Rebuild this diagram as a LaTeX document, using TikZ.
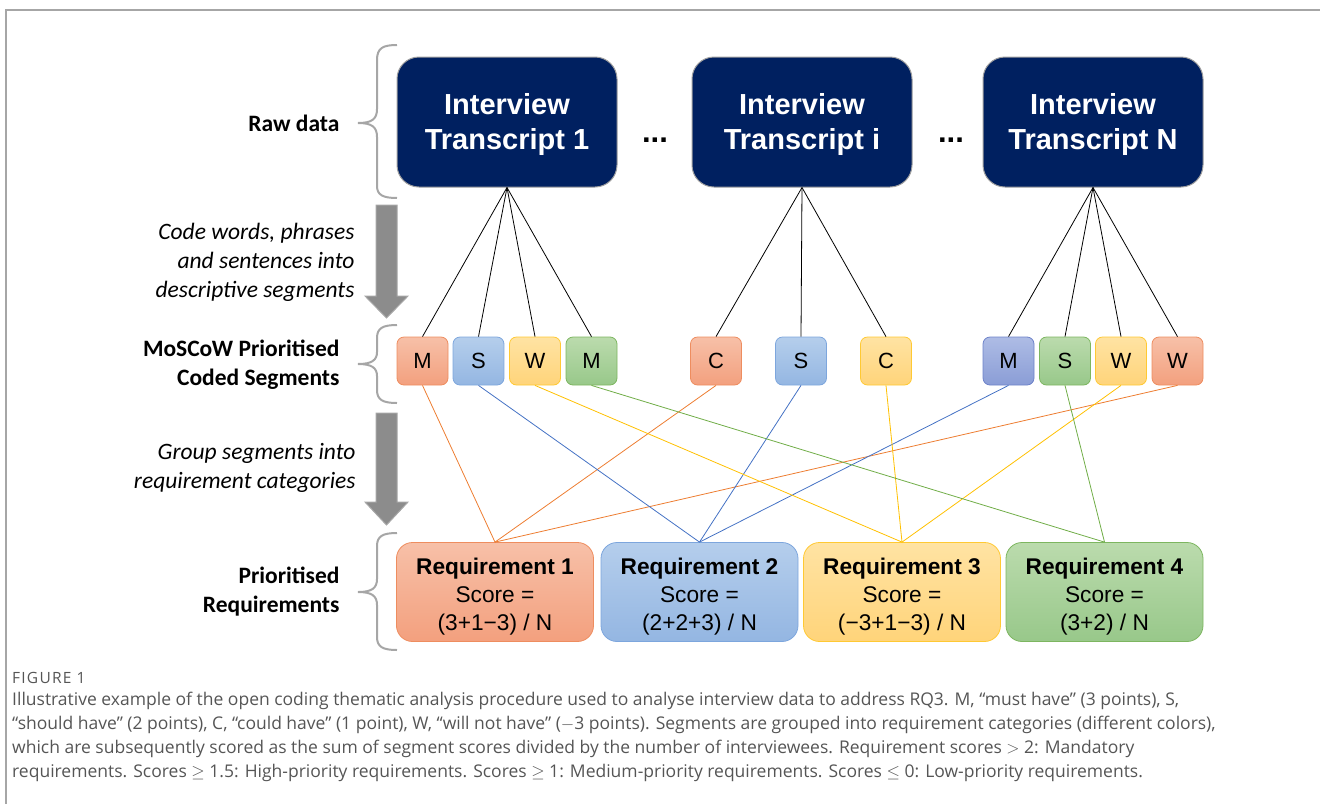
\documentclass[tikz,border=0pt]{standalone}
\usepackage{fontspec}
\setmainfont{Carlito}
\newfontfamily\arialfont{Liberation Sans}
\newfontfamily\captionfont{Open Sans}
\newfontfamily\figfont[LetterSpace=8]{Open Sans}
\usetikzlibrary{positioning}

\definecolor{navy}{HTML}{002060}
\definecolor{orgtop}{HTML}{F7C0A8}
\definecolor{orgbot}{HTML}{F3A07E}
\definecolor{orgborder}{HTML}{EE8D5F}
\definecolor{bltop}{HTML}{B5CEEC}
\definecolor{blbot}{HTML}{94B6E2}
\definecolor{blborder}{HTML}{7DA6DD}
\definecolor{yltop}{HTML}{FFE3A3}
\definecolor{ylbot}{HTML}{FFD47A}
\definecolor{ylborder}{HTML}{FFC933}
\definecolor{grtop}{HTML}{BBDBAD}
\definecolor{grbot}{HTML}{98C88A}
\definecolor{grborder}{HTML}{7DB660}
\definecolor{intop}{HTML}{AEBCE5}
\definecolor{inbot}{HTML}{8A9DD6}
\definecolor{inborder}{HTML}{6D82C9}
\definecolor{orgline}{HTML}{ED7D31}
\definecolor{blline}{HTML}{4472C4}
\definecolor{ylline}{HTML}{FFC000}
\definecolor{grline}{HTML}{70AD47}
\definecolor{bracegray}{HTML}{A6A6A6}
\definecolor{arrowgray}{HTML}{8C8C8C}
\definecolor{captiongray}{HTML}{555555}

\tikzset{
  transcript/.style={draw=gray!75, line width=1pt, fill=navy, rounded corners=22pt,
    minimum width=220pt, minimum height=130pt, text=white, align=center,
    font=\arialfont\bfseries\fontsize{29}{35}\selectfont},
  segment/.style={rounded corners=7pt, minimum width=51pt, minimum height=48pt,
    line width=0.8pt, font=\arialfont\fontsize{22}{22}\selectfont},
  reqbox/.style={rounded corners=16pt, minimum width=197pt, minimum height=99pt,
    line width=0.8pt, align=center, font=\arialfont\fontsize{22.7}{28}\selectfont},
  orangefill/.style={draw=orgborder, top color=orgtop, bottom color=orgbot},
  bluefill/.style={draw=blborder, top color=bltop, bottom color=blbot},
  yellowfill/.style={draw=ylborder, top color=yltop, bottom color=ylbot},
  greenfill/.style={draw=grborder, top color=grtop, bottom color=grbot},
  indigofill/.style={draw=inborder, top color=intop, bottom color=inbot},
  steplabel/.style={anchor=east, align=right, font=\bfseries\fontsize{23.5}{29}\selectfont},
  actionlabel/.style={anchor=east, align=right, font=\itshape\fontsize{23.5}{29}\selectfont},
  grpbrace/.style={draw=bracegray, line width=2pt},
  flowarrow/.style={fill=arrowgray, draw=bracegray, line width=1pt},
  tline/.style={draw=black, line width=0.8pt},
}

\begin{document}
\begin{tikzpicture}[x=1pt,y=-1pt]
\useasboundingbox (0,0) rectangle (1320,804);
\draw[gray!70, line width=1.5pt] (6,804) -- (6,10) -- (1320,10);

% interview transcripts
\node[transcript] (t1) at (507,122) {\rule{0pt}{27pt}Interview\\Transcript 1};
\node[transcript] (ti) at (802,122) {\rule{0pt}{27pt}Interview\\Transcript i};
\node[transcript] (tn) at (1093,122) {\rule{0pt}{27pt}Interview\\Transcript N};
\node[font=\arialfont\bfseries\fontsize{31}{31}\selectfont] (dots1) at (655,140) {...};
\node[font=\arialfont\bfseries\fontsize{31}{31}\selectfont] (dots2) at (951,140) {...};

% coded segments
\node[segment,orangefill] (s1) at (422.5,361) {M};
\node[segment,bluefill] (s2) at (478.5,361) {S};
\node[segment,yellowfill] (s3) at (535,361) {W};
\node[segment,greenfill] (s4) at (591.5,361) {M};
\node[segment,orangefill] (s5) at (716,361) {C};
\node[segment,bluefill] (s6) at (801,361) {S};
\node[segment,yellowfill] (s7) at (886,361) {C};
\node[segment,indigofill] (s8) at (1008.5,361) {M};
\node[segment,greenfill] (s9) at (1065,361) {S};
\node[segment,yellowfill] (s10) at (1121,361) {W};
\node[segment,orangefill] (s11) at (1177.5,361) {W};

% requirements
\node[reqbox,orangefill] (r1) at (495,592) {\rule{0pt}{25pt}\textbf{Requirement 1}\\Score =\\(3+1−3) / N};
\node[reqbox,bluefill] (r2) at (699.5,592) {\rule{0pt}{25pt}\textbf{Requirement 2}\\Score =\\(2+2+3) / N};
\node[reqbox,yellowfill] (r3) at (902,592) {\rule{0pt}{25pt}\textbf{Requirement 3}\\Score =\\(−3+1−3) / N};
\node[reqbox,greenfill] (r4) at (1104.5,592) {\rule{0pt}{25pt}\textbf{Requirement 4}\\Score =\\(3+2) / N};

% transcripts to segments
\draw[tline] (t1.south) -- (s1.north);
\draw[tline] (t1.south) -- (s2.north);
\draw[tline] (t1.south) -- (s3.north);
\draw[tline] (t1.south) -- (s4.north);
\draw[tline] (ti.south) -- (s5.north);
\draw[tline] (ti.south) -- (s6.north);
\draw[tline] (ti.south) -- (s7.north);
\draw[tline] (tn.south) -- (s8.north);
\draw[tline] (tn.south) -- (s9.north);
\draw[tline] (tn.south) -- (s10.north);
\draw[tline] (tn.south) -- (s11.north);

% segments to requirements
\draw[orgline, line width=0.8pt] (s1.south) -- (r1.north);
\draw[orgline, line width=0.8pt] (s5.south) -- (r1.north);
\draw[orgline, line width=0.8pt] (s11.south) -- (r1.north);
\draw[blline, line width=0.8pt] (s2.south) -- (r2.north);
\draw[blline, line width=0.8pt] (s6.south) -- (r2.north);
\draw[blline, line width=0.8pt] (s8.south) -- (r2.north);
\draw[ylline, line width=0.8pt] (s3.south) -- (r3.north);
\draw[ylline, line width=0.8pt] (s7.south) -- (r3.north);
\draw[ylline, line width=0.8pt] (s10.south) -- (r3.north);
\draw[grline, line width=0.8pt] (s4.south) -- (r4.north);
\draw[grline, line width=0.8pt] (s9.south) -- (r4.north);

% braces
\draw[grpbrace] (397,45) .. controls (383,45) and (377,48) .. (377,60) -- (377,109)
  .. controls (377,119) and (372,123) .. (358,123) .. controls (372,123) and (377,127) .. (377,137)
  -- (377,186) .. controls (377,195) and (383,198) .. (397,198);
\draw[grpbrace] (397,325) .. controls (383,325) and (377,328) .. (377,338) -- (377,352)
  .. controls (377,360) and (372,364) .. (358,364) .. controls (372,364) and (377,368) .. (377,376)
  -- (377,390) .. controls (377,400) and (383,403) .. (397,403);
\draw[grpbrace] (397,533) .. controls (383,533) and (377,536) .. (377,546) -- (377,579)
  .. controls (377,588) and (372,592) .. (358,592) .. controls (372,592) and (377,596) .. (377,605)
  -- (377,637) .. controls (377,647) and (383,650) .. (397,650);

% process arrows
\filldraw[flowarrow] (376,205) -- (397,205) -- (397,296) -- (408,296) -- (386.5,318)
  -- (365,296) -- (376,296) -- cycle;
\filldraw[flowarrow] (376,413) -- (397,413) -- (397,502) -- (408,502) -- (386.5,525)
  -- (365,502) -- (376,502) -- cycle;

% stage labels
\node[steplabel] (rawlbl) at (343,123) {Raw data};
\node[actionlabel] (codelbl) at (358,262) {Code words, phrases\\and sentences into\\descriptive segments};
\node[steplabel] (seglbl) at (343,365) {MoSCoW Prioritised\\Coded Segments};
\node[actionlabel] (grouplbl) at (359,468) {Group segments into\\requirement categories};
\node[steplabel] (reqlbl) at (343,592) {Prioritised\\Requirements};

% caption
\node[anchor=west, inner sep=0pt, text=captiongray, font=\figfont\fontsize{15.5}{15.5}\selectfont] (figlbl) at (12,678) {FIGURE 1};
\node[anchor=north west, align=left, inner sep=0pt, text=captiongray,
  font=\captionfont\fontsize{17.5}{24}\selectfont] (caption) at (12,691.5)
  {Illustrative example of the open coding thematic analysis procedure used to analyse interview data to address RQ3. M, “must have” (3 points), S,\\
   “should have” (2 points), C, “could have” (1 point), W, “will not have” ($-$3 points). Segments are grouped into requirement categories (different colors),\\
   which are subsequently scored as the sum of segment scores divided by the number of interviewees. Requirement scores $>$ 2: Mandatory\\
   requirements. Scores $\geq$ 1.5: High-priority requirements. Scores $\geq$ 1: Medium-priority requirements. Scores $\leq$ 0: Low-priority requirements.};
\end{tikzpicture}
\end{document}
